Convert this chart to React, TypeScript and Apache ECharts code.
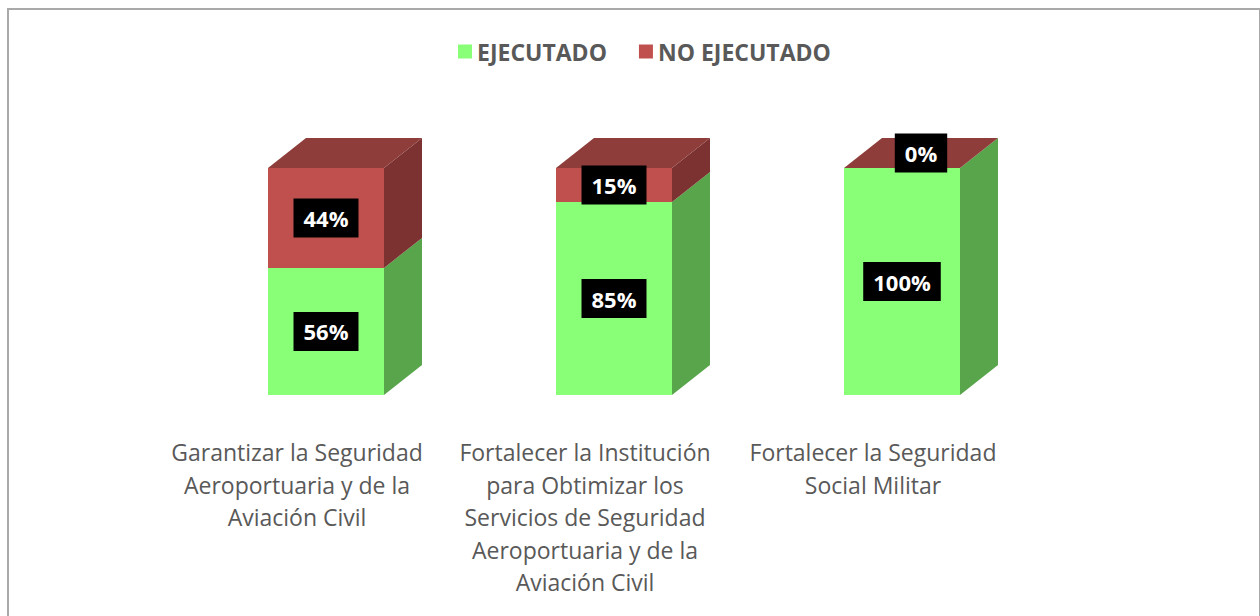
import React, { useEffect, useRef } from "react";
import * as echarts from "echarts";

const categories = [
  "Garantizar la Seguridad\nAeroportuaria y de la\nAviación Civil",
  "Fortalecer la Institución\npara Obtimizar los\nServicios de Seguridad\nAeroportuaria y de la\nAviación Civil",
  "Fortalecer la Seguridad\nSocial Militar",
];
const ejecutado = [56, 85, 100];
const noEjecutado = [44, 15, 0];
const seriesNames = ["EJECUTADO", "NO EJECUTADO"];

const FONT = "'Open Sans', 'Noto Sans', sans-serif";
const GREEN = { front: "#88FF77", side: "#59A54C", top: "#6CCC5F" };
const RED = { front: "#C0504D", side: "#7B3230", top: "#8E3D3B" };
const DX = 38;
const DY = 30;
const BAR_FRAC = 116 / 288;
const SHIFT = 29;

function makeRender(colors: { front: string; side: string; top: string }, drawTop: boolean) {
  return (params: any, api: any) => {
    const idx = api.value(0);
    const base = api.value(1);
    const top = api.value(2);
    const val = api.value(3);
    const p0 = api.coord([idx, base]);
    const p1 = api.coord([idx, top]);
    const w = api.size([1, 0])[0] * BAR_FRAC;
    const cx = p0[0] + SHIFT;
    const x0 = cx - w / 2;
    const x1 = cx + w / 2;
    const yb = p0[1];
    const yt = p1[1];
    const children: any[] = [];
    if (yb - yt > 0) {
      children.push({
        type: "rect",
        shape: { x: x0, y: yt, width: w, height: yb - yt },
        style: { fill: colors.front },
      });
      children.push({
        type: "polygon",
        shape: { points: [[x1, yb], [x1 + DX, yb - DY], [x1 + DX, yt - DY], [x1, yt]] },
        style: { fill: colors.side },
      });
    }
    if (drawTop) {
      children.push({
        type: "polygon",
        shape: { points: [[x0, yt], [x0 + DX, yt - DY], [x1 + DX, yt - DY], [x1, yt]] },
        style: { fill: colors.top },
      });
    }
    let lx = cx;
    let ly = (yb + yt) / 2;
    if (val === 0) {
      lx += DX / 2;
      ly -= DY / 2;
    }
    children.push({
      type: "text",
      x: lx,
      y: ly,
      z2: 10,
      style: {
        text: val + "%",
        align: "center",
        verticalAlign: "middle",
        fill: "#FFFFFF",
        fontFamily: FONT,
        fontWeight: "bold",
        fontSize: 22,
        lineHeight: 27,
        backgroundColor: "#000000",
        padding: [6, 10, 6, 10],
      },
    });
    return { type: "group", children };
  };
}

export default function App() {
  const ref = useRef<HTMLDivElement>(null);
  useEffect(() => {
    if (!ref.current) return;
    const chart = echarts.init(ref.current, undefined, { renderer: "svg" });
    const greenData = ejecutado.map((v, i) => [i, 0, v, v]);
    const redData = noEjecutado.map((v, i) => [i, ejecutado[i], ejecutado[i] + v, v]);
    chart.setOption({
      animation: false,
      backgroundColor: "#FFFFFF",
      textStyle: { fontFamily: FONT },
      graphic: [
        {
          type: "rect",
          shape: { x: 8, y: 9, width: 1252, height: 700 },
          style: { fill: "none", stroke: "#A9A9A9", lineWidth: 2 },
          z: -1,
        },
      ],
      legend: {
        data: seriesNames,
        left: 453,
        top: 35,
        itemWidth: 14,
        itemHeight: 14,
        itemGap: 32,
        icon: "rect",
        textStyle: { fontSize: 23, fontWeight: "bold", color: "#595959", fontFamily: FONT },
      },
      grid: { left: 153, right: 243, top: 168, bottom: 221 },
      xAxis: {
        type: "category",
        data: categories,
        axisLine: { show: false },
        axisTick: { show: false },
        axisLabel: {
          interval: 0,
          margin: 41,
          fontSize: 23,
          lineHeight: 32.5,
          color: "#595959",
          fontFamily: FONT,
          verticalAlign: "top",
        },
      },
      yAxis: { type: "value", min: 0, max: 100, show: false },
      series: [
        {
          name: seriesNames[0],
          type: "custom",
          renderItem: makeRender(GREEN, false),
          itemStyle: { color: GREEN.front },
          data: greenData,
          encode: { x: 0, y: [1, 2] },
        },
        {
          name: seriesNames[1],
          type: "custom",
          renderItem: makeRender(RED, true),
          itemStyle: { color: RED.front },
          data: redData,
          encode: { x: 0, y: [1, 2] },
        },
      ],
    });
    return () => chart.dispose();
  }, []);
  return (
    <div
      ref={ref}
      style={{ position: "absolute", left: 0, top: 0, width: 1260, height: 616 }}
    />
  );
}
